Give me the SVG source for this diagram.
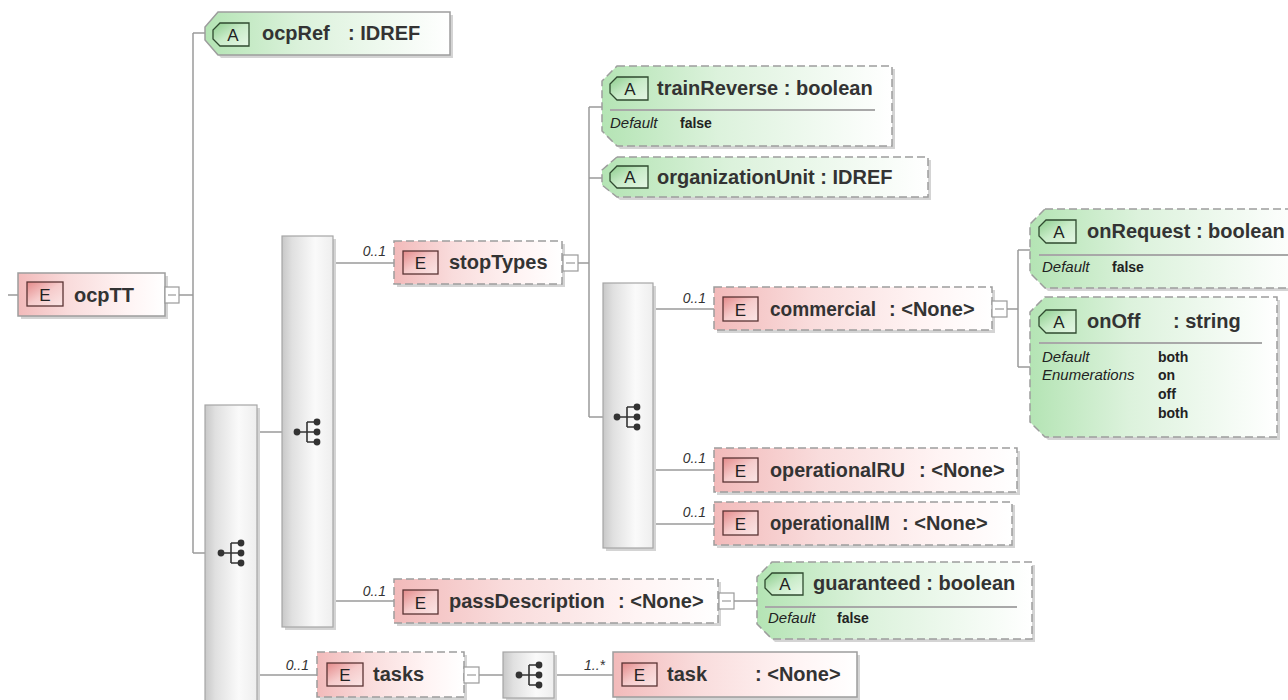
<svg xmlns="http://www.w3.org/2000/svg" width="1288" height="700" viewBox="0 0 1288 700">
<defs>
<linearGradient id="gE" x1="0" y1="0" x2="1" y2="0">
<stop offset="0" stop-color="#f2baba"/><stop offset="0.35" stop-color="#f9dcdc"/><stop offset="0.75" stop-color="#fff4f4"/><stop offset="1" stop-color="#ffffff"/>
</linearGradient>
<linearGradient id="gA" x1="0" y1="0" x2="1" y2="0">
<stop offset="0" stop-color="#b4e4b4"/><stop offset="0.4" stop-color="#dcf2dc"/><stop offset="1" stop-color="#ffffff"/>
</linearGradient>
<linearGradient id="gEb" x1="0" y1="0" x2="1" y2="1">
<stop offset="0" stop-color="#e48a8a"/><stop offset="0.5" stop-color="#f6cccc"/><stop offset="1" stop-color="#fbe6e6"/>
</linearGradient>
<linearGradient id="gAb" x1="0" y1="0" x2="1" y2="1">
<stop offset="0" stop-color="#8ccc8c"/><stop offset="0.5" stop-color="#c9ecc9"/><stop offset="1" stop-color="#e6f7e6"/>
</linearGradient>
<linearGradient id="gS" x1="0" y1="0" x2="1" y2="0">
<stop offset="0" stop-color="#c8c8c8"/><stop offset="0.2" stop-color="#e0e0e0"/><stop offset="0.65" stop-color="#fafafa"/><stop offset="1" stop-color="#eeeeee"/>
</linearGradient>
<g id="seqIcon">
<path d="M-10,0 H0 M0,-10 V10 M0,-10 H10 M0,0 H10 M0,10 H10" stroke="#333" stroke-width="1.6" fill="none"/>
<circle cx="-10" cy="0" r="3.4" fill="#333"/>
<circle cx="10" cy="-10" r="3.4" fill="#333"/>
<circle cx="10" cy="0" r="3.4" fill="#333"/>
<circle cx="10" cy="10" r="3.4" fill="#333"/>
</g>
</defs>
<style>
.conn{stroke:#9a9a9a;stroke-width:1.5;fill:none}
.shadow{fill:#d4d4d4}
.ebox{fill:url(#gE);stroke:#9d9d9d;stroke-width:1.5}
.abox{fill:url(#gA);stroke:#9d9d9d;stroke-width:1.5}
.dash{stroke-dasharray:8 4}
.ebadge{fill:url(#gEb);stroke:#5a3434;stroke-width:1.3}
.abadge{fill:url(#gAb);stroke:#2f4a2f;stroke-width:1.3}
.seq{fill:url(#gS);stroke:#a6a6a6;stroke-width:1.2}
.col{fill:#ffffff;stroke:#9a9a9a;stroke-width:1.2}
.minus{stroke:#9a9a9a;stroke-width:1.2}
.sep{stroke:#a8a8a8;stroke-width:2}
text{font-family:"Liberation Sans",Arial,sans-serif}
.name{font-size:20px;font-weight:bold;fill:#333}
.bt{font-size:17px;fill:#222;text-anchor:middle}
.card{font-size:14px;font-style:italic;fill:#333;text-anchor:end}
.dk{font-size:15px;font-style:italic;fill:#222}
.dv{font-size:14px;font-weight:bold;fill:#222}
</style>

<g id="connectors">
<path class="conn" d="M8,295 H18 M179,295 H193 M193,33 V553 M193,33 H205 M193,553 H205"/>
<path class="conn" d="M257,432 H282 M257,675 H317 M333,263 H394 M333,601 H394"/>
<path class="conn" d="M578,263 H589 M589,107 V417 M589,107 H602 M589,178 H602 M589,417 H603"/>
<path class="conn" d="M653,309 H714 M653,470 H714 M653,524 H714"/>
<path class="conn" d="M1007,309 H1018 M1018,250 V367 M1018,250 H1030 M1018,367 H1030"/>
<path class="conn" d="M734,601 H757 M479,675 H503 M554,675 H613"/>
</g>

<g id="seq1">
<rect class="shadow" x="208" y="408" width="52" height="300"/>
<rect class="seq" x="205" y="405" width="52" height="300"/>
<use href="#seqIcon" x="231" y="553"/>
</g>
<g id="seq2">
<rect class="shadow" x="285" y="239" width="51" height="391"/>
<rect class="seq" x="282" y="236" width="51" height="391"/>
<use href="#seqIcon" x="307" y="432"/>
</g>
<g id="seq3">
<rect class="shadow" x="606" y="286" width="50" height="265"/>
<rect class="seq" x="603" y="283" width="50" height="265"/>
<use href="#seqIcon" x="627" y="417"/>
</g>
<g id="seq4">
<rect class="shadow" x="506" y="655" width="51" height="46"/>
<rect class="seq" x="503" y="652" width="51" height="46"/>
<use href="#seqIcon" x="529" y="675"/>
</g>

<g id="ocpTT">
<rect class="shadow" x="21" y="276" width="147" height="43"/>
<rect class="ebox" x="18" y="273" width="147" height="43"/>
<rect class="ebadge" x="27" y="282" width="36" height="24"/>
<text class="bt" x="45" y="301">E</text>
<text class="name" x="74" y="302">ocpTT</text>
<rect class="col" x="165" y="287" width="14" height="16"/>
<path class="minus" d="M168,295 H176"/>
</g>

<g id="ocpRef">
<polygon class="shadow" points="221,15 453,15 453,58 221,58 208,43 208,30"/>
<polygon class="abox" points="218,12 450,12 450,55 218,55 205,40 205,27"/>
<polygon class="abadge" points="220,23 249,23 249,46 220,46 213,39 213,30"/>
<text class="bt" x="233" y="41">A</text>
<text class="name" x="262" y="40">ocpRef</text>
<text class="name" x="348" y="40">: IDREF</text>
</g>

<g id="stopTypes">
<rect class="shadow" x="397" y="244" width="168" height="43"/>
<rect class="ebox dash" x="394" y="241" width="168" height="43"/>
<text class="card" x="386" y="256">0..1</text>
<rect class="ebadge" x="403" y="251" width="35" height="23"/>
<text class="bt" x="420.5" y="269">E</text>
<text class="name" x="449" y="269">stopTypes</text>
<rect class="col" x="563" y="255" width="15" height="16"/>
<path class="minus" d="M566,263 H575"/>
</g>

<g id="trainReverse">
<polygon class="shadow" points="620,69 895,69 895,149 620,149 605,134 605,84"/>
<polygon class="abox dash" points="617,66 892,66 892,146 617,146 602,131 602,81"/>
<polygon class="abadge" points="617,77 648,77 648,100 617,100 610,93 610,84"/>
<text class="bt" x="630" y="95">A</text>
<text class="name" x="657" y="95">trainReverse : boolean</text>
<path class="sep" d="M610,110 H875"/>
<text class="dk" x="610" y="128">Default</text>
<text class="dv" x="680" y="128">false</text>
</g>

<g id="organizationUnit">
<polygon class="shadow" points="620,160 931,160 931,200 620,200 605,188 605,173"/>
<polygon class="abox dash" points="617,157 928,157 928,197 617,197 602,185 602,170"/>
<polygon class="abadge" points="617,166 648,166 648,188 617,188 610,181 610,173"/>
<text class="bt" x="630" y="183">A</text>
<text class="name" x="657" y="184">organizationUnit : IDREF</text>
</g>

<g id="commercial">
<rect class="shadow" x="717" y="290" width="278" height="43"/>
<rect class="ebox dash" x="714" y="287" width="278" height="43"/>
<text class="card" x="706" y="303">0..1</text>
<rect class="ebadge" x="723" y="297" width="35" height="24"/>
<text class="bt" x="740.5" y="316">E</text>
<text class="name" x="770" y="316" textLength="106" lengthAdjust="spacingAndGlyphs">commercial</text>
<text class="name" x="889" y="316">: &lt;None&gt;</text>
<rect class="col" x="992" y="301" width="15" height="16"/>
<path class="minus" d="M995,309 H1004"/>
</g>

<g id="onRequest">
<polygon class="shadow" points="1048,212 1303,212 1303,291 1048,291 1033,276 1033,227"/>
<polygon class="abox dash" points="1045,209 1300,209 1300,288 1045,288 1030,273 1030,224"/>
<polygon class="abadge" points="1046,220 1076,220 1076,243 1046,243 1039,236 1039,227"/>
<text class="bt" x="1059" y="238">A</text>
<text class="name" x="1087" y="238">onRequest : boolean</text>
<path class="sep" d="M1039,255 H1290"/>
<text class="dk" x="1042" y="272">Default</text>
<text class="dv" x="1112" y="272">false</text>
</g>

<g id="onOff">
<polygon class="shadow" points="1048,300 1280,300 1280,440 1048,440 1033,425 1033,315"/>
<polygon class="abox dash" points="1045,297 1277,297 1277,437 1045,437 1030,422 1030,312"/>
<polygon class="abadge" points="1046,310 1076,310 1076,333 1046,333 1039,326 1039,317"/>
<text class="bt" x="1059" y="328">A</text>
<text class="name" x="1087" y="328">onOff</text>
<text class="name" x="1173" y="328">: string</text>
<path class="sep" d="M1039,343 H1262"/>
<text class="dk" x="1042" y="362">Default</text>
<text class="dv" x="1158" y="362">both</text>
<text class="dk" x="1042" y="380">Enumerations</text>
<text class="dv" x="1158" y="380">on</text>
<text class="dv" x="1158" y="399">off</text>
<text class="dv" x="1158" y="418">both</text>
</g>

<g id="operationalRU">
<rect class="shadow" x="717" y="451" width="303" height="44"/>
<rect class="ebox dash" x="714" y="448" width="303" height="44"/>
<text class="card" x="706" y="463">0..1</text>
<rect class="ebadge" x="723" y="458" width="35" height="24"/>
<text class="bt" x="740.5" y="477">E</text>
<text class="name" x="770" y="477" textLength="135" lengthAdjust="spacingAndGlyphs">operationalRU</text>
<text class="name" x="919" y="477">: &lt;None&gt;</text>
</g>

<g id="operationalIM">
<rect class="shadow" x="717" y="505" width="298" height="43"/>
<rect class="ebox dash" x="714" y="502" width="298" height="43"/>
<text class="card" x="706" y="517">0..1</text>
<rect class="ebadge" x="723" y="511" width="35" height="24"/>
<text class="bt" x="740.5" y="530">E</text>
<text class="name" x="770" y="530" textLength="120" lengthAdjust="spacingAndGlyphs">operationalIM</text>
<text class="name" x="902" y="530">: &lt;None&gt;</text>
</g>

<g id="passDescription">
<rect class="shadow" x="397" y="582" width="324" height="44"/>
<rect class="ebox dash" x="394" y="579" width="324" height="44"/>
<text class="card" x="386" y="596">0..1</text>
<rect class="ebadge" x="403" y="590" width="35" height="24"/>
<text class="bt" x="420.5" y="609">E</text>
<text class="name" x="449" y="608">passDescription</text>
<text class="name" x="618" y="608">: &lt;None&gt;</text>
<rect class="col" x="719" y="593" width="15" height="16"/>
<path class="minus" d="M722,601 H731"/>
</g>

<g id="guaranteed">
<polygon class="shadow" points="775,565 1035,565 1035,642 775,642 760,627 760,580"/>
<polygon class="abox dash" points="772,562 1032,562 1032,639 772,639 757,624 757,577"/>
<polygon class="abadge" points="772,573 803,573 803,595 772,595 765,588 765,580"/>
<text class="bt" x="785" y="590">A</text>
<text class="name" x="813" y="590">guaranteed : boolean</text>
<path class="sep" d="M765,607 H1017"/>
<text class="dk" x="768" y="623">Default</text>
<text class="dv" x="837" y="623">false</text>
</g>

<g id="tasks">
<rect class="shadow" x="320" y="655" width="147" height="45"/>
<rect class="ebox dash" x="317" y="652" width="147" height="45"/>
<text class="card" x="309" y="670">0..1</text>
<rect class="ebadge" x="327" y="663" width="36" height="23"/>
<text class="bt" x="345" y="681">E</text>
<text class="name" x="373" y="681">tasks</text>
<rect class="col" x="464" y="667" width="15" height="16"/>
<path class="minus" d="M467,675 H476"/>
</g>

<g id="task">
<rect class="shadow" x="616" y="655" width="244" height="45"/>
<rect class="ebox" x="613" y="652" width="244" height="45"/>
<text class="card" x="605" y="670">1..*</text>
<rect class="ebadge" x="622" y="663" width="35" height="23"/>
<text class="bt" x="639.5" y="681">E</text>
<text class="name" x="667" y="681">task</text>
<text class="name" x="755" y="681">: &lt;None&gt;</text>
</g>
</svg>
